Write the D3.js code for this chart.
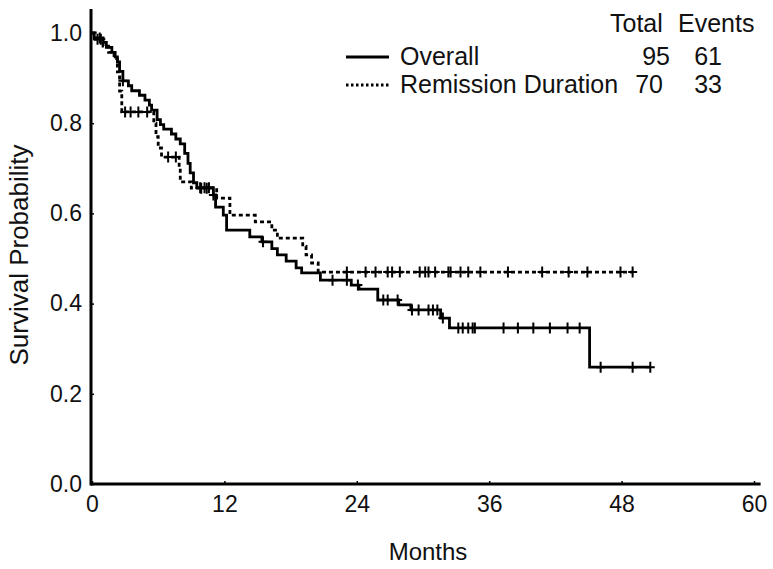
<!DOCTYPE html>
<html><head><meta charset="utf-8">
<script src="https://cdn.jsdelivr.net/npm/d3@7"></script>
<style>body{margin:0;background:#fff}svg{display:block}text{font-family:"Liberation Sans",Arial,sans-serif;fill:#111}</style>
</head><body><svg id="c" width="773" height="569"></svg>
<script>
// ---- data ----
const xTicks = [0, 12, 24, 36, 48, 60];
const yTicks = [0.0, 0.2, 0.4, 0.6, 0.8, 1.0];
const seriesNames = ["Overall", "Remission Duration"];
const seriesTotal = [95, 70];
const seriesEvents = [61, 33];
// step drops: [month, survival after drop]
const overallSteps = [[0.2,0.989],[1.0,0.979],[1.3,0.968],[1.8,0.957],[2.1,0.947],[2.3,0.936],[2.5,0.915],[2.8,0.894],[3.3,0.883],[3.6,0.872],[4.3,0.862],[4.8,0.851],[5.2,0.840],[5.4,0.829],[5.9,0.808],[6.2,0.797],[6.5,0.787],[7.2,0.776],[7.6,0.765],[8.0,0.754],[8.4,0.733],[8.7,0.711],[8.9,0.690],[9.2,0.668],[9.5,0.657],[11.0,0.641],[11.2,0.614],[11.9,0.596],[12.2,0.563],[14.3,0.548],[15.4,0.537],[16.3,0.522],[16.8,0.508],[17.6,0.494],[18.5,0.479],[19.0,0.468],[20.7,0.452],[23.5,0.441],[24.2,0.432],[25.9,0.408],[27.8,0.397],[28.9,0.386],[31.6,0.368],[32.4,0.346],[45.1,0.259]];
const overallEnd = 50.6;
const overallCensor = [0.7,2.8,9.8,10.2,10.6,11.0,15.5,21.8,23.1,24.1,26.4,26.8,27.7,29.0,29.6,30.5,30.9,31.3,31.8,33.2,33.6,34.1,34.5,34.7,37.3,38.6,40.0,41.5,43.1,44.2,46.1,49.0,50.6];
const remissionSteps = [[0.3,0.986],[1.0,0.971],[1.5,0.957],[2.0,0.943],[2.3,0.914],[2.5,0.871],[2.7,0.825],[5.6,0.80],[5.8,0.77],[6.0,0.745],[6.3,0.725],[7.9,0.70],[8.0,0.67],[9.0,0.656],[11.3,0.634],[12.5,0.596],[14.8,0.581],[16.3,0.563],[16.8,0.545],[19.1,0.527],[19.4,0.508],[19.9,0.49],[20.5,0.47]];
const remissionEnd = 49.0;
const remissionCensor = [0.5,0.8,3.0,3.5,4.2,5.0,6.9,7.6,9.9,10.4,23.1,24.8,25.7,26.8,27.2,27.9,29.7,30.2,30.5,31.1,32.3,32.5,33.4,34.1,35.2,37.7,40.8,43.2,44.9,47.9,49.0];

// ---- layout ----
const svg = d3.select("#c");
const x = d3.scaleLinear().domain([0, 60]).range([92, 754]);
const y = d3.scaleLinear().domain([0, 1]).range([484, 33]);

// axes
const gx = svg.append("g").attr("transform", "translate(0,484)")
  .call(d3.axisBottom(x).tickValues(xTicks).tickSize(-3).tickPadding(12).tickFormat(d3.format("d")));
gx.select(".domain").attr("d", `M${x(-0.1)},0H${x(60.6)}`).attr("stroke", "#000").attr("stroke-width", 3);
gx.selectAll("text").attr("font-size", 23).attr("dy", "0.71em").attr("fill", "#111");
const gy = svg.append("g").attr("transform", "translate(91,0)")
  .call(d3.axisLeft(y).tickValues(yTicks).tickSize(-3).tickPadding(9).tickFormat(d3.format(".1f")));
gy.select(".domain").attr("d", `M0,${y(1.053)}V${y(0)+1.5}`).attr("stroke", "#000").attr("stroke-width", 3);
gy.selectAll("text").attr("font-size", 23).attr("fill", "#111");
svg.selectAll(".tick line").attr("stroke", "#000").attr("stroke-width", 1.5);

svg.append("text").attr("x", 428).attr("y", 560).attr("text-anchor", "middle").attr("font-size", 24).text("Months");
svg.append("text").attr("transform", "translate(28,255) rotate(-90)").attr("text-anchor", "middle").attr("font-size", 26).text("Survival Probability");

function buildPts(steps, end) {
  const pts = [[0, 1]].concat(steps);
  pts.push([end, steps[steps.length - 1][1]]);
  return pts;
}
function survAt(steps, t) {
  let s = 1;
  for (const [tt, v] of steps) { if (tt <= t) s = v; }
  return s;
}
const line = d3.line().x(d => x(d[0])).y(d => y(d[1])).curve(d3.curveStepAfter);

const series = [
  {steps: remissionSteps, end: remissionEnd, censor: remissionCensor, dash: "4,3"},
  {steps: overallSteps, end: overallEnd, censor: overallCensor, dash: null}
];
series.forEach(s => {
  svg.append("path").attr("d", line(buildPts(s.steps, s.end)))
    .attr("fill", "none").attr("stroke", "#000").attr("stroke-width", 2.8)
    .attr("stroke-dasharray", s.dash);
  svg.append("g").selectAll("path").data(s.censor).join("path")
    .attr("d", t => { const cx = x(t), cy = y(survAt(s.steps, t)); return `M${cx},${cy-5.5}V${cy+5.5}M${cx-4.5},${cy}H${cx+4.5}`; })
    .attr("stroke", "#000").attr("stroke-width", 2).attr("fill", "none");
});

// legend
const lg = svg.append("g");
lg.append("text").attr("x", 610).attr("y", 32).attr("font-size", 25).text("Total");
lg.append("text").attr("x", 678).attr("y", 32).attr("font-size", 25).text("Events");
const rowY = [65, 93], lineY = [57, 85], totEnd = [670, 663];
seriesNames.forEach((n, i) => {
  lg.append("line").attr("x1", 346).attr("x2", 389).attr("y1", lineY[i]).attr("y2", lineY[i])
    .attr("stroke", "#000").attr("stroke-width", 2.8).attr("stroke-dasharray", i === 1 ? "2.5,2.5" : null);
  lg.append("text").attr("x", 400).attr("y", rowY[i]).attr("font-size", 25).text(n);
  lg.append("text").attr("x", totEnd[i]).attr("y", rowY[i]).attr("text-anchor", "end").attr("font-size", 25).text(seriesTotal[i]);
  lg.append("text").attr("x", 722).attr("y", rowY[i]).attr("text-anchor", "end").attr("font-size", 25).text(seriesEvents[i]);
});
</script></body></html>
